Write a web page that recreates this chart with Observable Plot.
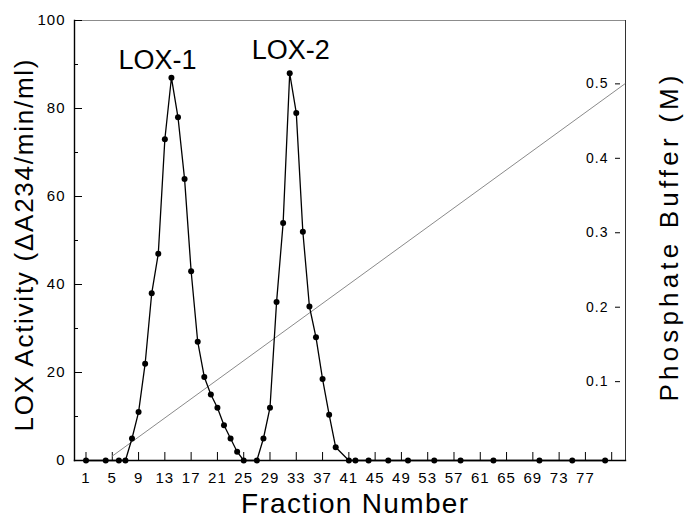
<!DOCTYPE html>
<html>
<head>
<meta charset="utf-8">
<script src="https://cdn.jsdelivr.net/npm/d3@7"></script>
<script src="https://cdn.jsdelivr.net/npm/@observablehq/plot@0.6"></script>
<style>
  html, body { margin: 0; padding: 0; background: #fff; }
  #chart svg { display: block; }
  g[aria-label="x-axis tick label"] text,
  g[aria-label="y-axis tick label"] text { letter-spacing: 1px; }
</style>
</head>
<body>
<div id="chart"></div>
<script>
// LOX activity of each collected fraction (ΔA234/min/ml)
const fractions = [1, 4, 6, 7, 8, 9, 10, 11, 12, 13, 14, 15, 16, 17, 18, 19, 20, 21, 22, 23, 24, 25,
                   27, 28, 29, 30, 31, 32, 33, 34, 35, 36, 37, 38, 39, 41, 42, 44, 47, 50, 54, 58, 63, 70, 75, 80];
const activity  = [0, 0, 0, 0, 5, 11, 22, 38, 47, 73, 87, 78, 64, 43, 27, 19, 15, 12, 8, 5, 2, 0,
                   0, 5, 12, 36, 54, 88, 79, 52, 35, 28, 18.5, 10.4, 3, 0, 0, 0, 0, 0, 0, 0, 0, 0, 0, 0];

// Linear phosphate buffer gradient (M)
const gradientFractions = [5, 83];
const gradientMolarity  = [0, 0.5];

// Peak names and the fraction at which each peak tops out
const peakNames     = ["LOX-1", "LOX-2"];
const peakFractions = [14, 32];

// Axis ticks and titles
const xTicks       = [1, 5, 9, 13, 17, 21, 25, 29, 33, 37, 41, 45, 49, 53, 57, 61, 65, 69, 73, 77, 81];
const xTickLabels  = [1, 5, 9, 13, 17, 21, 25, 29, 33, 37, 41, 45, 49, 53, 57, 61, 65, 69, 73, 77];
const yTicks       = [0, 20, 40, 60, 80, 100];
const yMinorTicks  = [10, 30, 50, 70, 90];
const bufferTicks  = [0.1, 0.2, 0.3, 0.4, 0.5];
const xTitle       = "Fraction Number";
const yTitle       = "LOX Activity (ΔA234/min/ml)";
const bufferTitle  = "Phosphate Buffer (M)";

const profile  = fractions.map((f, i) => ({fraction: f, activity: activity[i]}));
const gradient = gradientFractions.map((f, i) => ({fraction: f, molarity: gradientMolarity[i]}));
const peaks    = peakNames.map((name, i) => ({
  name,
  fraction: peakFractions[i],
  activity: activity[fractions.indexOf(peakFractions[i])]
}));

// Secondary (right-hand) axis: buffer molarity expressed in activity units
const buffer = d3.scaleLinear().domain([0, 0.5]).range([1, 85.6]);

const font = "'Liberation Sans', Arial, Helvetica, sans-serif";

const chart = Plot.plot({
  width: 686,
  height: 518,
  marginLeft: 74,
  marginRight: 61,
  marginTop: 20,
  marginBottom: 58,
  style: {fontFamily: font, background: "#fff", color: "#000"},
  x: {domain: [-0.75, 83.1]},
  y: {domain: [0, 100]},
  marks: [
    // plot box
    Plot.frame({anchor: "top", stroke: "#8c8c8c"}),
    Plot.frame({anchor: "right", stroke: "#333"}),
    Plot.frame({anchor: "left", stroke: "#000", strokeWidth: 1.4}),
    Plot.frame({anchor: "bottom", stroke: "#000", strokeWidth: 1.4}),

    // left axis: LOX activity
    Plot.axisY(yTicks, {anchor: "left", tickSize: -8, tickPadding: 17, fontSize: 15, label: null}),
    Plot.axisY(yMinorTicks, {anchor: "left", tickSize: -4, fill: "none", label: null}),

    // bottom axis: fraction number
    Plot.axisX(xTicks, {anchor: "bottom", tickSize: -8, fill: "none", label: null}),
    Plot.axisX(xTickLabels, {anchor: "bottom", tickSize: 0, tickPadding: 12, fontSize: 15, label: null}),

    // right axis: phosphate buffer molarity
    Plot.axisY(bufferTicks, {
      anchor: "right", y: buffer, tickSize: 5, dx: -11, tickPadding: -11,
      textAnchor: "end", fontSize: 14, tickFormat: d3.format(".1f"), label: null
    }),

    // buffer gradient
    Plot.line(gradient, {x: "fraction", y: d => buffer(d.molarity), stroke: "#8a8a8a", strokeWidth: 1}),

    // activity profile
    Plot.line(profile, {x: "fraction", y: "activity", stroke: "#000", strokeWidth: 1.3}),
    Plot.dot(profile, {x: "fraction", y: "activity", r: 3, fill: "#000"}),

    // peak names
    Plot.text(peaks.filter(d => d.name === "LOX-1"), {
      x: "fraction", y: "activity", text: "name", fontSize: 27,
      lineAnchor: "bottom", dx: -14, dy: -9
    }),
    Plot.text(peaks.filter(d => d.name === "LOX-2"), {
      x: "fraction", y: "activity", text: "name", fontSize: 27,
      lineAnchor: "bottom", dx: 1, dy: -14.5
    }),

    // axis titles
    Plot.text([yTitle], {
      frameAnchor: "left", textAnchor: "middle", rotate: -90, dx: -50, dy: 5, fontSize: 26
    }),
    Plot.text([bufferTitle], {
      frameAnchor: "right", textAnchor: "middle", rotate: -90, dx: 44, dy: -2, fontSize: 26
    }),
    Plot.text([xTitle], {
      frameAnchor: "bottom", textAnchor: "middle", lineAnchor: "bottom", dx: 4.5, dy: 52, fontSize: 28
    })
  ]
});

// stretch the axis titles to their set lengths
const titleLengths = new Map([[yTitle, 372], [bufferTitle, 326], [xTitle, 227]]);
chart.querySelectorAll("text").forEach(t => {
  const length = titleLengths.get(t.textContent);
  if (length) {
    t.setAttribute("textLength", length);
    t.setAttribute("lengthAdjust", "spacing");
  }
});

document.getElementById("chart").append(chart);
</script>
</body>
</html>
